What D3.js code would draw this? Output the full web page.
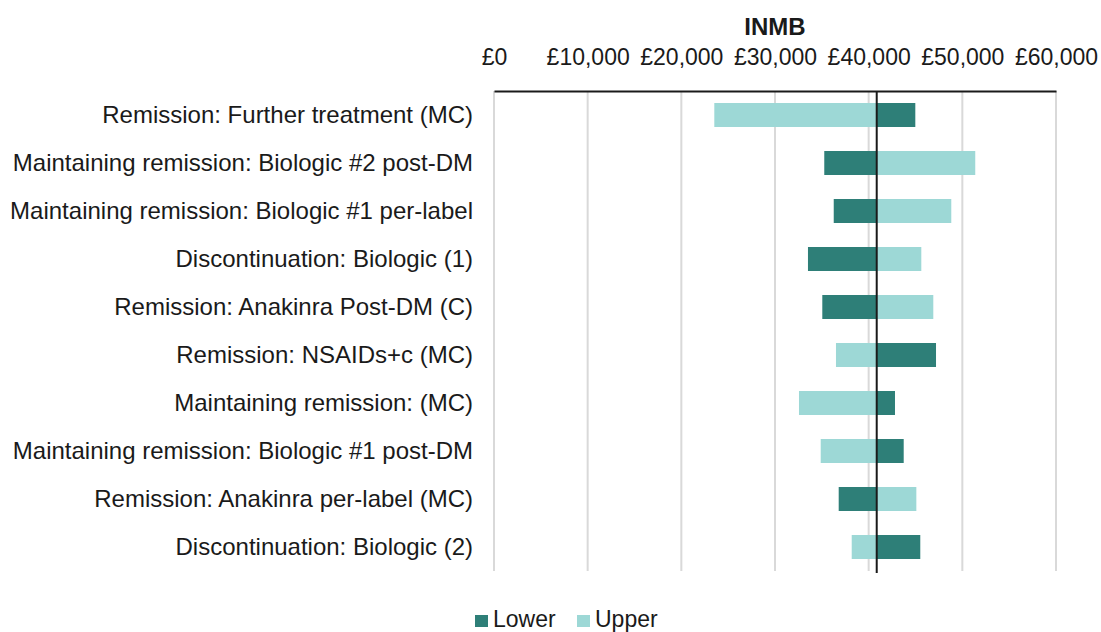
<!DOCTYPE html>
<html>
<head>
<meta charset="utf-8">
<script src="https://cdn.jsdelivr.net/npm/d3@7/dist/d3.min.js"></script>
<style>
  html, body { margin: 0; padding: 0; background: #ffffff; }
</style>
</head>
<body>
<script>
const categories = [
  "Remission: Further treatment (MC)",
  "Maintaining remission: Biologic #2 post-DM",
  "Maintaining remission: Biologic #1 per-label",
  "Discontinuation: Biologic (1)",
  "Remission: Anakinra Post-DM (C)",
  "Remission: NSAIDs+c (MC)",
  "Maintaining remission: (MC)",
  "Maintaining remission: Biologic #1 post-DM",
  "Remission: Anakinra per-label (MC)",
  "Discontinuation: Biologic (2)"
];
const lowerValues = [44980, 35260, 36270, 33520, 35050, 47190, 42810, 43740, 36800, 45510];
const upperValues = [23520, 51380, 48820, 45620, 46900, 36510, 32560, 34880, 45090, 38190];
const baseValue = 40860;
const tickValues = [0, 10000, 20000, 30000, 40000, 50000, 60000];
const seriesNames = ["Lower", "Upper"];
const seriesColors = { Lower: "#2e7f78", Upper: "#9dd8d6" };

const width = 1101;
const height = 632;
const margin = { top: 91, right: 45, bottom: 61, left: 494 };
const font = "Liberation Sans, Arial, Helvetica, sans-serif";

const svg = d3.select("body")
  .append("svg")
  .attr("width", width)
  .attr("height", height)
  .attr("viewBox", `0 0 ${width} ${height}`);

const x = d3.scaleLinear()
  .domain([0, 60000])
  .range([margin.left, width - margin.right]);

const y = d3.scaleBand()
  .domain(categories)
  .range([margin.top, height - margin.bottom])
  .paddingInner(0.5)
  .paddingOuter(0.25);

// gridlines
svg.append("g")
  .selectAll("line")
  .data(tickValues)
  .join("line")
  .attr("x1", (d) => x(d))
  .attr("x2", (d) => x(d))
  .attr("y1", margin.top)
  .attr("y2", height - margin.bottom)
  .attr("stroke", "#d9d9d9")
  .attr("stroke-width", 2);

// bars
const rows = categories.map((c, i) => ({ cat: c, Lower: lowerValues[i], Upper: upperValues[i] }));
seriesNames.forEach((s) => {
  svg.append("g")
    .selectAll("rect")
    .data(rows)
    .join("rect")
    .attr("x", (d) => x(Math.min(d[s], baseValue)))
    .attr("width", (d) => Math.abs(x(d[s]) - x(baseValue)))
    .attr("y", (d) => y(d.cat))
    .attr("height", y.bandwidth())
    .attr("fill", seriesColors[s]);
});

// base line
svg.append("line")
  .attr("x1", x(baseValue))
  .attr("x2", x(baseValue))
  .attr("y1", margin.top)
  .attr("y2", height - margin.bottom + 2)
  .attr("stroke", "#1a1a1a")
  .attr("stroke-width", 2);

// top axis
const axis = d3.axisTop(x)
  .tickValues(tickValues)
  .tickSize(0)
  .tickPadding(26)
  .tickFormat((d) => "£" + d3.format(",")(d));

const axisG = svg.append("g")
  .attr("transform", `translate(0,${margin.top})`)
  .call(axis);
axisG.select(".domain")
  .attr("stroke", "#1a1a1a")
  .attr("stroke-width", 2);
axisG.selectAll("text")
  .attr("font-family", font)
  .attr("font-size", 23)
  .attr("fill", "#1a1a1a");

// title
svg.append("text")
  .attr("x", (x(0) + x(60000)) / 2)
  .attr("y", 35)
  .attr("text-anchor", "middle")
  .attr("font-family", font)
  .attr("font-size", 24)
  .attr("font-weight", 700)
  .attr("fill", "#1a1a1a")
  .text("INMB");

// category labels
svg.append("g")
  .selectAll("text")
  .data(categories)
  .join("text")
  .attr("x", margin.left - 21)
  .attr("y", (d) => y(d) + y.bandwidth() / 2)
  .attr("dy", "0.35em")
  .attr("text-anchor", "end")
  .attr("font-family", font)
  .attr("font-size", 24)
  .attr("fill", "#1a1a1a")
  .text((d) => d);

// legend
const legend = svg.append("g").attr("transform", "translate(475,614)");
const legendX = d3.scaleOrdinal().domain(seriesNames).range([0, 102]);
const item = legend.selectAll("g")
  .data(seriesNames)
  .join("g")
  .attr("transform", (d) => `translate(${legendX(d)},0)`);
item.append("rect")
  .attr("y", 1)
  .attr("width", 13)
  .attr("height", 12)
  .attr("fill", (d) => seriesColors[d]);
item.append("text")
  .attr("x", 18)
  .attr("y", 13)
  .attr("font-family", font)
  .attr("font-size", 23)
  .attr("fill", "#1a1a1a")
  .text((d) => d);
</script>
</body>
</html>
